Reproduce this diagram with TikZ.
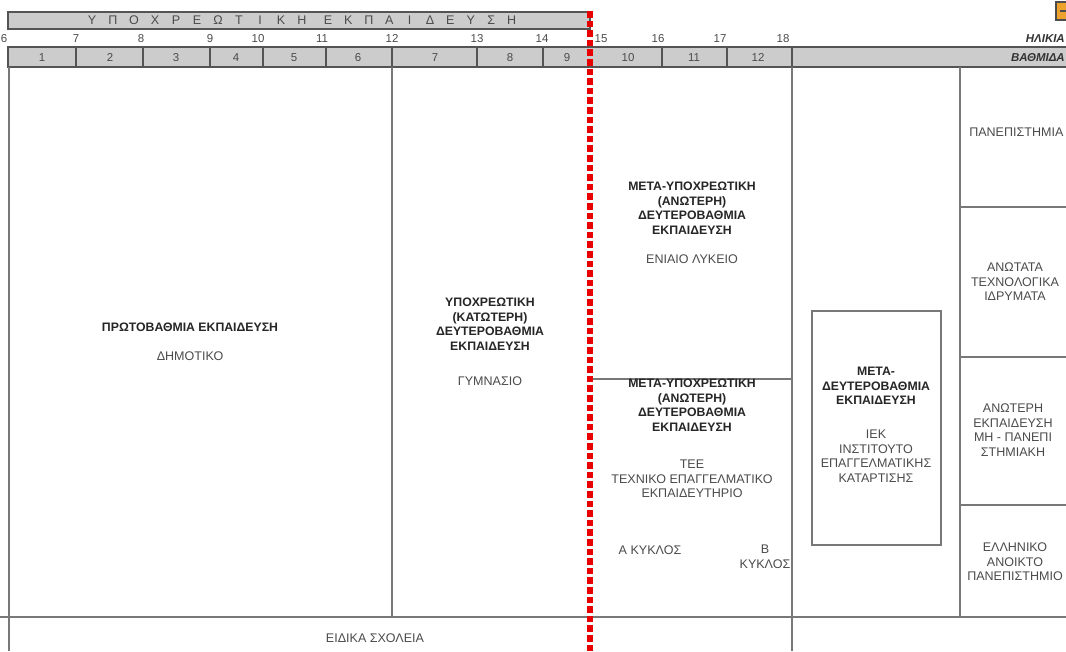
\documentclass[tikz,border=0pt]{standalone}
\usepackage{fontspec}
\setmainfont{Liberation Sans}
\usetikzlibrary{positioning}
\definecolor{barfill}{RGB}{204,204,204}
\definecolor{rulegray}{RGB}{120,120,120}
\definecolor{txtgray}{RGB}{75,75,75}
\definecolor{reddash}{RGB}{232,0,0}
\definecolor{iconorange}{RGB}{236,162,44}

\tikzset{
  cell/.style={draw=rulegray, line width=1.1pt},
  bar/.style={fill=barfill, draw=rulegray!70!black, line width=1pt},
  head/.style={font=\fontsize{8.6}{9}\selectfont, text=txtgray, inner sep=0pt},
  lvl/.style={font=\fontsize{9.2}{10.9}\selectfont\bfseries, text=black!85, align=center, inner sep=0pt},
  sch/.style={font=\fontsize{9.4}{10.9}\selectfont, text=txtgray, align=center, inner sep=0pt},
}

\begin{document}
\begin{tikzpicture}[x=0.75pt, y=-0.75pt]
\useasboundingbox (0,0) rectangle (1066,651);
\clip (0,0) rectangle (1066,651);
\fill[white] (0,0) rectangle (1066,651);
% header bars
\draw[bar] (8,12) rectangle (590,29);
\draw[bar] (8,47) rectangle (1070,67);
\foreach \x in {76,143,210,263,326,392,477,543,662,727,792}
  \draw[rulegray!70!black, line width=1pt] (\x,47) -- (\x,67);
\foreach \l [count=\i] in {Υ,Π,Ο,Χ,Ρ,Ε,Ω,Τ,Ι,Κ,Η}
  \node[head, font=\fontsize{9.4}{9}\selectfont, anchor=base] (ya\i) at ({92+21*(\i-1)},24.5) {\l};
\foreach \l [count=\i] in {Ε,Κ,Π,Α,Ι,Δ,Ε,Υ,Σ,Η}
  \node[head, font=\fontsize{9.4}{9}\selectfont, anchor=base] (yb\i) at ({328+20.4*(\i-1)},24.5) {\l};
\node[head, anchor=base west] (age6) at (0.5,42) {6};
\foreach \a/\x in {7/76,8/141,9/210,10/258,11/322,12/392,13/477,14/542,15/601,16/658,17/720,18/783}
  \node[head, anchor=base] (age\a) at (\x,42) {\a};
\foreach \g/\x in {1/42,2/110,3/176,4/236,5/294,6/358,7/435,8/510,9/567,10/628,11/694,12/758}
  \node[head, anchor=base] (gr\g) at (\x,61) {\g};
\node[head, anchor=base east, font=\fontsize{8.6}{9}\selectfont\bfseries\itshape, text=black!80] (ilikia) at (1065,42) {ΗΛΙΚΙΑ};
\node[head, anchor=base east, font=\fontsize{8.6}{9}\selectfont\bfseries\itshape, text=black!80] (vathmida) at (1065,61) {ΒΑΘΜΙΔΑ};
\draw[fill=iconorange, draw=black!70, line width=0.8pt] (1056,2) rectangle (1072,20);
\draw[black!70, line width=1pt] (1060,11) -- (1068,11);
% table body
\draw[cell] (9,67) -- (9,651);
\draw[cell] (392,67) -- (392,617);
\draw[cell] (792,67) -- (792,651);
\draw[cell] (960,67) -- (960,617);
\draw[cell] (0,617) -- (1066,617);
\draw[cell] (592,379) -- (792,379);
\draw[cell] (960,207) -- (1066,207);
\draw[cell] (960,357) -- (1066,357);
\draw[cell] (960,505) -- (1066,505);
\draw[cell] (812,311) rectangle (941,545);
% texts
\node[lvl] (prot) at (190,327) {ΠΡΩΤΟΒΑΘΜΙΑ ΕΚΠΑΙΔΕΥΣΗ};
\node[sch] (dimot) at (190,356) {ΔΗΜΟΤΙΚΟ};
\node[lvl] (katot) at (490,324) {ΥΠΟΧΡΕΩΤΙΚΗ\\(ΚΑΤΩΤΕΡΗ)\\ΔΕΥΤΕΡΟΒΑΘΜΙΑ\\ΕΚΠΑΙΔΕΥΣΗ};
\node[sch] (gymn) at (490,381) {ΓΥΜΝΑΣΙΟ};
\node[lvl] (anot) at (692,208) {ΜΕΤΑ-ΥΠΟΧΡΕΩΤΙΚΗ\\(ΑΝΩΤΕΡΗ)\\ΔΕΥΤΕΡΟΒΑΘΜΙΑ\\ΕΚΠΑΙΔΕΥΣΗ};
\node[sch] (lyk) at (692,259) {ΕΝΙΑΙΟ ΛΥΚΕΙΟ};
\node[lvl] (anotb) at (692,405) {ΜΕΤΑ-ΥΠΟΧΡΕΩΤΙΚΗ\\(ΑΝΩΤΕΡΗ)\\ΔΕΥΤΕΡΟΒΑΘΜΙΑ\\ΕΚΠΑΙΔΕΥΣΗ};
\node[sch] (tee) at (692,479) {ΤΕΕ\\ΤΕΧΝΙΚΟ ΕΠΑΓΓΕΛΜΑΤΙΚΟ\\ΕΚΠΑΙΔΕΥΤΗΡΙΟ};
\node[sch] (kyka) at (650,550) {Α ΚΥΚΛΟΣ};
\node[sch] (kykb) at (765,557) {Β\\ΚΥΚΛΟΣ};
\node[lvl] (metad) at (876,386) {ΜΕΤΑ-\\ΔΕΥΤΕΡΟΒΑΘΜΙΑ\\ΕΚΠΑΙΔΕΥΣΗ};
\node[sch] (iek) at (876,456) {ΙΕΚ\\ΙΝΣΤΙΤΟΥΤΟ\\ΕΠΑΓΓΕΛΜΑΤΙΚΗΣ\\ΚΑΤΑΡΤΙΣΗΣ};
\node[sch, anchor=west] (panep) at (969,132) {ΠΑΝΕΠΙΣΤΗΜΙΑ};
\node[sch] (tei) at (1015,282) {ΑΝΩΤΑΤΑ\\ΤΕΧΝΟΛΟΓΙΚΑ\\ΙΔΡΥΜΑΤΑ};
\node[sch] (mhpan) at (1013,430) {ΑΝΩΤΕΡΗ\\ΕΚΠΑΙΔΕΥΣΗ\\ΜΗ - ΠΑΝΕΠΙ\\ΣΤΗΜΙΑΚΗ};
\node[sch] (eap) at (1015,562) {ΕΛΛΗΝΙΚΟ\\ΑΝΟΙΚΤΟ\\ΠΑΝΕΠΙΣΤΗΜΙΟ};
\node[sch] (eidika) at (375,638) {ΕΙΔΙΚΑ ΣΧΟΛΕΙΑ};
% end of compulsory education
\draw[reddash, line width=4.5pt, dash pattern=on 5pt off 2.2pt] (590,11) -- (590,651);
\end{tikzpicture}
\end{document}
